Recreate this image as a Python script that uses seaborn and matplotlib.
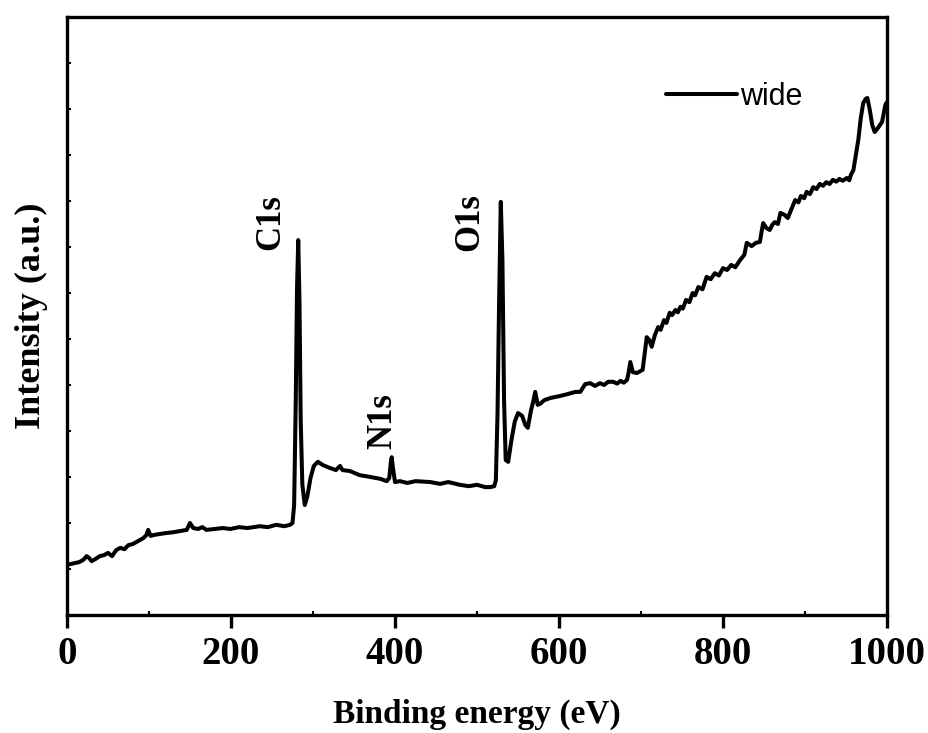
import matplotlib
matplotlib.use("Agg")
import matplotlib.pyplot as plt
import seaborn as sns
import pandas as pd
from matplotlib.ticker import MultipleLocator, NullFormatter

binding_energy = [
    0, 5, 10, 15, 20, 24, 27, 30, 35, 40,
    45, 50, 55, 60, 65, 70, 75, 80, 85, 89,
    93, 97, 99, 102, 106, 113, 120, 130, 140, 146,
    150, 154, 160, 165, 170, 180, 190, 199, 210, 220,
    235, 245, 255, 265, 272, 275, 277, 279, 280.5, 282,
    283.5, 285, 287, 290, 293, 297, 301, 306, 312, 320,
    328, 333, 336, 345, 357, 370, 382, 390, 393, 395,
    396, 397.5, 400, 406, 415, 425, 443, 455, 465, 479,
    490, 500, 510, 516, 521, 523, 525, 527, 529, 531,
    533, 535, 538, 542, 546, 550, 555, 559, 562, 566,
    569, 571, 574, 577, 582, 590, 601, 610, 620, 626,
    632, 638, 644, 650, 655, 660, 666, 671, 675, 679,
    683, 685, 687, 690, 695, 702, 705, 707, 710, 713,
    717, 721, 724, 728, 731, 735, 738, 742, 745, 748,
    751, 755, 759, 763, 766, 770, 775, 780, 785, 790,
    795, 800, 805, 810, 815, 821, 826, 829, 835, 840,
    845, 847, 849, 853, 857, 860, 863, 867, 870, 875,
    879, 884, 888, 892, 895, 899, 902, 906, 910, 914,
    918, 922, 926, 930, 934, 938, 942, 946, 951, 954,
    956, 959, 962, 965, 968, 971, 974, 976, 979, 982,
    985, 989, 994, 998, 1000]
intensity = [
    1.09, 1.11, 1.13, 1.15, 1.20, 1.28, 1.24, 1.17, 1.22, 1.28,
    1.30, 1.35, 1.28, 1.41, 1.46, 1.43, 1.52, 1.54, 1.59, 1.63,
    1.67, 1.74, 1.85, 1.72, 1.74, 1.76, 1.78, 1.80, 1.83, 1.85,
    2.00, 1.89, 1.87, 1.91, 1.85, 1.87, 1.89, 1.87, 1.91, 1.89,
    1.93, 1.91, 1.96, 1.93, 1.96, 2.00, 2.39, 4.67, 7.07, 8.15,
    6.85, 4.24, 2.83, 2.39, 2.57, 2.98, 3.24, 3.33, 3.26, 3.20,
    3.15, 3.24, 3.15, 3.13, 3.04, 3.00, 2.96, 2.91, 2.98, 3.33,
    3.43, 3.20, 2.89, 2.91, 2.87, 2.91, 2.89, 2.85, 2.89, 2.83,
    2.80, 2.83, 2.78, 2.78, 2.80, 2.93, 4.35, 6.85, 8.98, 7.72,
    4.67, 3.37, 3.33, 3.80, 4.20, 4.39, 4.33, 4.13, 4.07, 4.46,
    4.67, 4.85, 4.57, 4.59, 4.67, 4.72, 4.76, 4.80, 4.85, 4.85,
    5.02, 5.04, 4.98, 5.04, 5.00, 5.07, 5.07, 5.03, 5.09, 5.05,
    5.11, 5.28, 5.50, 5.28, 5.26, 5.33, 5.76, 6.04, 5.98, 5.83,
    6.09, 6.26, 6.20, 6.41, 6.35, 6.57, 6.52, 6.63, 6.58, 6.70,
    6.66, 6.85, 6.80, 7.00, 6.95, 7.13, 7.08, 7.35, 7.30, 7.43,
    7.38, 7.54, 7.50, 7.61, 7.56, 7.72, 7.83, 8.09, 8.02, 8.09,
    8.11, 8.33, 8.52, 8.41, 8.37, 8.48, 8.54, 8.50, 8.74, 8.70,
    8.63, 8.85, 9.02, 8.97, 9.11, 9.06, 9.20, 9.15, 9.30, 9.26,
    9.37, 9.33, 9.41, 9.37, 9.46, 9.42, 9.48, 9.44, 9.50, 9.45,
    9.57, 9.67, 10.00, 10.33, 10.80, 11.13, 11.22, 11.24, 10.98, 10.65,
    10.50, 10.59, 10.72, 11.09, 11.15]

peak_labels = ["C1s", "N1s", "O1s"]
peak_label_x = [249, 385, 491]
peak_label_y = [8.54, 4.22, 8.54]

x_ticks = [0, 200, 400, 600, 800, 1000]
series_name = "wide"

sns.set_style("ticks")
plt.rcParams["font.family"] = ["Liberation Serif", "DejaVu Serif"]
plt.rcParams["text.color"] = "black"
plt.rcParams["axes.labelcolor"] = "black"
plt.rcParams["xtick.color"] = "black"
plt.rcParams["ytick.color"] = "black"

df = pd.DataFrame({"Binding energy (eV)": binding_energy, "Intensity": intensity})

fig = plt.figure(figsize=(9.29, 7.33), dpi=100)
ax = fig.add_axes([0.0721, 0.161, 0.8827, 0.8158])

sns.lineplot(data=df, x="Binding energy (eV)", y="Intensity", ax=ax, color="black",
             linewidth=2.9, label=series_name, sort=False)

ax.set_xlim(0, 1000)
ax.set_ylim(0, 13)
ax.set_xticks(x_ticks)
ax.set_xticklabels([str(t) for t in x_ticks], fontsize=28, fontweight="bold", color="black")
ax.xaxis.set_minor_locator(MultipleLocator(100))
ax.yaxis.set_major_locator(MultipleLocator(1))
ax.yaxis.set_major_formatter(NullFormatter())

ax.tick_params(axis="x", which="major", direction="out", length=9, width=2.4, pad=6, colors="black")
ax.tick_params(axis="x", which="minor", direction="in", length=3, width=1.5, colors="black")
ax.tick_params(axis="y", which="major", direction="in", length=3, width=1.5, colors="black")

for s in ax.spines.values():
    s.set_linewidth(2.4)
    s.set_color("black")
    s.set_visible(True)

ax.set_xlabel("Binding energy (eV)", fontsize=24, fontweight="bold", labelpad=19, color="black")
ax.set_ylabel("Intensity (a.u.)", fontsize=26, fontweight="bold", labelpad=10, color="black")

for lab, lx, ly in zip(peak_labels, peak_label_x, peak_label_y):
    ax.text(lx, ly, lab, rotation=90, ha="center", va="center", fontsize=25,
            fontweight="bold", color="black")

leg = ax.legend(loc="upper right", bbox_to_anchor=(0.93, 0.938), frameon=False,
                handlelength=2.3, handletextpad=0.1,
                prop={"family": "Liberation Sans", "size": 22})
for t in leg.get_texts():
    t.set_color("black")

fig.savefig("out.png", dpi=100)
